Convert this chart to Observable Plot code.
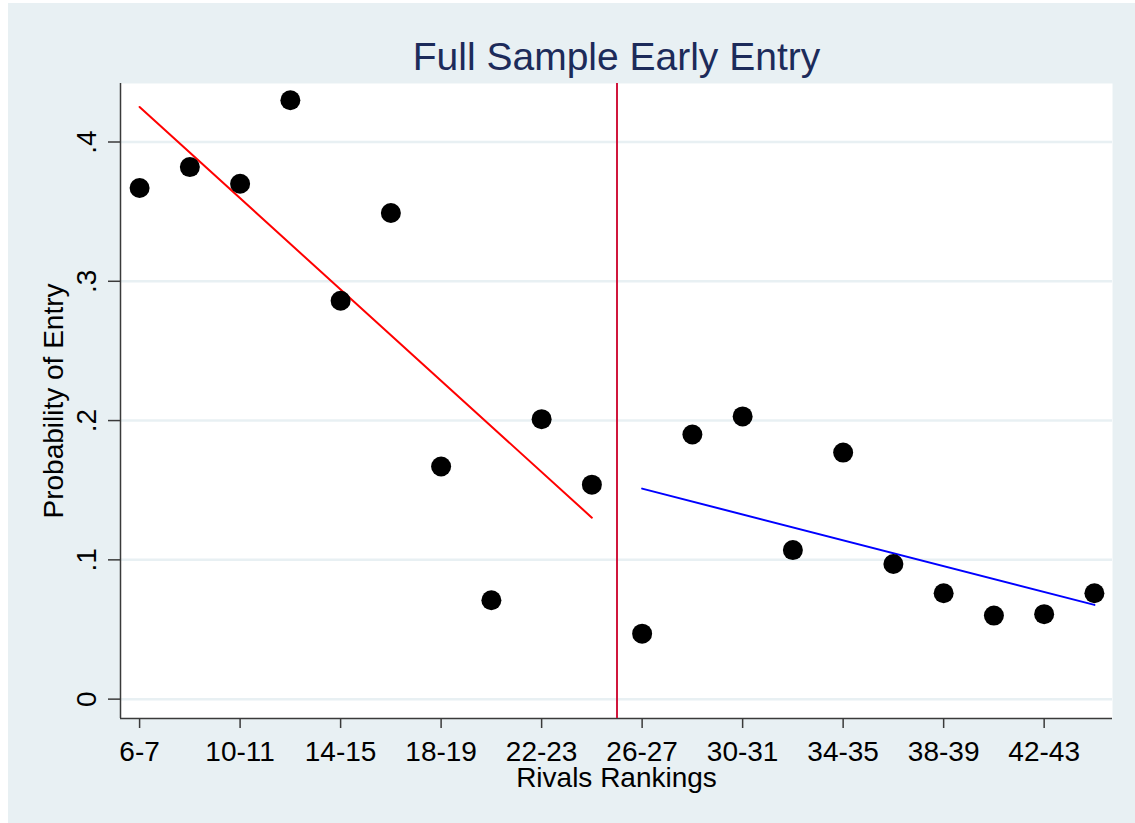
<!DOCTYPE html>
<html>
<head>
<meta charset="utf-8">
<script src="https://cdn.jsdelivr.net/npm/d3@7"></script>
<script src="https://cdn.jsdelivr.net/npm/@observablehq/plot@0.6"></script>
<style>
  html, body { margin: 0; padding: 0; background: #ffffff; }
  #chart { margin: 3px 0 0 8px; width: 1127px; height: 820px; background: #e8f0f3; }
</style>
</head>
<body>
<div id="chart"></div>
<script>
// Lower rank of each two-rank Rivals bin (6-7, 8-9, ..., 44-45)
const ranks = [6, 8, 10, 12, 14, 16, 18, 20, 22, 24, 26, 28, 30, 32, 34, 36, 38, 40, 42, 44];
// Probability of early entry per bin
const probs = [0.367, 0.382, 0.370, 0.430, 0.286, 0.349, 0.167, 0.071, 0.201, 0.154,
               0.047, 0.190, 0.203, 0.107, 0.177, 0.097, 0.076, 0.060, 0.061, 0.076];
// Cutoff between the two fitted segments
const cutoff = 25;
// Axis ticks
const xTicks = [6, 10, 14, 18, 22, 26, 30, 34, 38, 42];
const xTickLabels = ["6-7", "10-11", "14-15", "18-19", "22-23", "26-27", "30-31", "34-35", "38-39", "42-43"];
const yTicks = [0, 0.1, 0.2, 0.3, 0.4];
const yTickLabels = ["0", ".1", ".2", ".3", ".4"];
const xDomain = [5.24, 44.72];
const yDomain = [-0.0139, 0.442];

const titleText = "Full Sample Early Entry";
const xTitle = "Rivals Rankings";
const yTitle = "Probability of Entry";

const data = ranks.map((r, i) => ({rank: r, prob: probs[i]}));
const xLabelOf = new Map(xTicks.map((t, i) => [t, xTickLabels[i]]));
const yLabelOf = new Map(yTicks.map((t, i) => [t, yTickLabels[i]]));

const font = "'Liberation Sans', Arial, sans-serif";

const chart = Plot.plot({
  width: 1127,
  height: 820,
  marginLeft: 112,
  marginRight: 23,
  marginTop: 80,
  marginBottom: 105,
  style: {background: "#e8f0f3", fontFamily: font, color: "black", overflow: "visible"},
  x: {domain: xDomain, axis: null},
  y: {domain: yDomain, axis: null},
  marks: [
    Plot.frame({fill: "white", stroke: "none"}),
    Plot.gridY(yTicks, {stroke: "#e8f0f3", strokeOpacity: 1, strokeWidth: 2.5}),
    Plot.ruleX([xDomain[0]], {stroke: "#3a3a3a", strokeWidth: 1.5}),
    Plot.ruleY([yDomain[0]], {stroke: "#3a3a3a", strokeWidth: 1.5}),
    Plot.axisX(xTicks, {anchor: "bottom", tickSize: 10, tickPadding: 13, fontSize: 28,
      tickFormat: d => xLabelOf.get(d), label: null, stroke: "#3a3a3a", strokeWidth: 1.5}),
    Plot.axisY(yTicks, {anchor: "left", tickSize: 12, tickPadding: 12.5, tickRotate: -90, fontSize: 28,
      tickFormat: d => yLabelOf.get(d), label: null, stroke: "#3a3a3a", strokeWidth: 1.5}),
    Plot.ruleX([cutoff], {stroke: "#d0163c", strokeWidth: 2}),
    Plot.linearRegressionY(data.filter(d => d.rank < cutoff), {x: "rank", y: "prob", stroke: "#ff0000", strokeWidth: 2, ci: 0}),
    Plot.linearRegressionY(data.filter(d => d.rank > cutoff), {x: "rank", y: "prob", stroke: "#0000ff", strokeWidth: 2, ci: 0}),
    Plot.dot(data, {x: "rank", y: "prob", r: 10, fill: "black", stroke: "none"}),
    Plot.text([titleText], {frameAnchor: "top", dy: -13.7, lineAnchor: "bottom", fontSize: 39, fill: "#1c2b5a"}),
    Plot.text([xTitle], {frameAnchor: "bottom", dy: 68, lineAnchor: "bottom", fontSize: 28}),
    Plot.text([yTitle], {frameAnchor: "left", dx: -58, rotate: -90, lineAnchor: "bottom", textAnchor: "middle", fontSize: 28})
  ]
});
document.getElementById("chart").appendChild(chart);
</script>
</body>
</html>
